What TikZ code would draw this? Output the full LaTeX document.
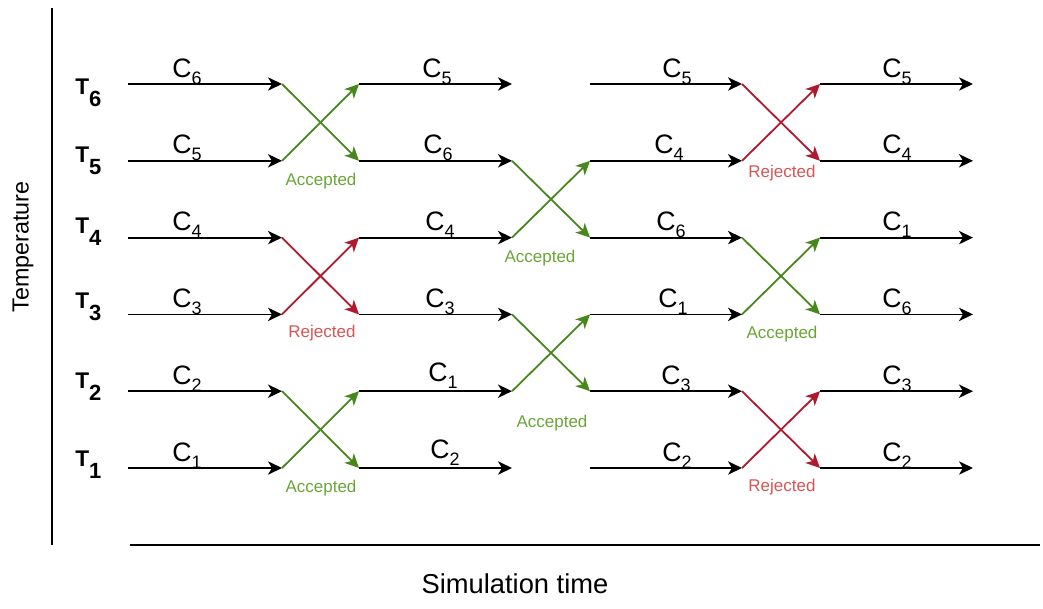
\documentclass[tikz,border=0pt]{standalone}
\usepackage{fontspec}
\setmainfont{Liberation Sans}
\usetikzlibrary{arrows.meta}
\definecolor{accline}{RGB}{72,135,30}
\definecolor{acctext}{RGB}{105,165,55}
\definecolor{rejline}{RGB}{175,25,45}
\definecolor{rejtext}{RGB}{215,85,85}
\newcommand{\Clab}[1]{C\raisebox{-5.3pt}{\fontsize{13.5}{13.5}\selectfont #1}}
\newcommand{\Tlab}[1]{T\raisebox{-9pt}{\fontsize{16.5}{16.5}\selectfont #1}}
\tikzset{
  flow/.style={draw=black, line width=1.35pt, -{Stealth[length=10.5pt,width=10pt,inset=3pt]}},
  acc/.style={flow, draw=accline},
  rej/.style={flow, draw=rejline},
  clab/.style={font=\fontsize{20}{20}\selectfont, anchor=base, inner sep=0pt},
  tlab/.style={font=\bfseries\fontsize{17}{17}\selectfont, anchor=base west, inner sep=0pt},
  acclab/.style={font=\fontsize{12.75}{12.75}\selectfont, text=acctext, anchor=base, inner sep=0pt},
  rejlab/.style={font=\fontsize{12.75}{12.75}\selectfont, text=rejtext, anchor=base, inner sep=0pt},
  axis/.style={draw=black, line width=1pt},
  axlab/.style={inner sep=0pt}
}
\begin{document}
\begin{tikzpicture}[x=0.75pt, y=-0.75pt]
\path[use as bounding box] (0,0) rectangle (1043,608);
% grid of points
\foreach \c/\x in {0/128,1/282,2/359,3/512,4/590,5/742,6/820,7/973}{
  \foreach \r in {1,...,6}{
    \coordinate (p\c-\r) at (\x, {468-(\r-1)*76.8});
  }
}
% horizontal segments
\foreach \r in {1,...,6}{
  \draw[flow] (p0-\r) -- (p1-\r);
  \draw[flow] (p2-\r) -- (p3-\r);
  \draw[flow] (p4-\r) -- (p5-\r);
  \draw[flow] (p6-\r) -- (p7-\r);
}
% cross 1
\draw[acc] (p1-6) -- (p2-5); \draw[acc] (p1-5) -- (p2-6);
\draw[rej] (p1-4) -- (p2-3); \draw[rej] (p1-3) -- (p2-4);
\draw[acc] (p1-2) -- (p2-1); \draw[acc] (p1-1) -- (p2-2);
% cross 2
\draw[acc] (p3-5) -- (p4-4); \draw[acc] (p3-4) -- (p4-5);
\draw[acc] (p3-3) -- (p4-2); \draw[acc] (p3-2) -- (p4-3);
% cross 3
\draw[rej] (p5-6) -- (p6-5); \draw[rej] (p5-5) -- (p6-6);
\draw[acc] (p5-4) -- (p6-3); \draw[acc] (p5-3) -- (p6-4);
\draw[rej] (p5-2) -- (p6-1); \draw[rej] (p5-1) -- (p6-2);
% temperature labels
\node[tlab] (t6) at (75, 94) {\Tlab{6}};
\node[tlab] (t5) at (75, 162) {\Tlab{5}};
\node[tlab] (t4) at (75, 233) {\Tlab{4}};
\node[tlab] (t3) at (75, 308.4) {\Tlab{3}};
\node[tlab] (t2) at (75, 388.2) {\Tlab{2}};
\node[tlab] (t1) at (75, 466) {\Tlab{1}};
% segment 1 labels
\node[clab] (a6) at (187, 77) {\Clab{6}};
\node[clab] (a5) at (187, 153.8) {\Clab{5}};
\node[clab] (a4) at (187, 230.6) {\Clab{4}};
\node[clab] (a3) at (187, 307.4) {\Clab{3}};
\node[clab] (a2) at (187, 384.2) {\Clab{2}};
\node[clab] (a1) at (187, 461) {\Clab{1}};
% segment 2 labels
\node[clab] (b6) at (437, 77) {\Clab{5}};
\node[clab] (b5) at (438, 153.8) {\Clab{6}};
\node[clab] (b4) at (440, 230.6) {\Clab{4}};
\node[clab] (b3) at (440, 307.4) {\Clab{3}};
\node[clab] (b2) at (443, 381.2) {\Clab{1}};
\node[clab] (b1) at (445, 458) {\Clab{2}};
% segment 3 labels
\node[clab] (d6) at (677, 77) {\Clab{5}};
\node[clab] (d5) at (669, 153.8) {\Clab{4}};
\node[clab] (d4) at (671, 230.6) {\Clab{6}};
\node[clab] (d3) at (673, 307.4) {\Clab{1}};
\node[clab] (d2) at (676, 384.2) {\Clab{3}};
\node[clab] (d1) at (677, 461) {\Clab{2}};
% segment 4 labels
\node[clab] (e6) at (897, 77) {\Clab{5}};
\node[clab] (e5) at (897, 153.8) {\Clab{4}};
\node[clab] (e4) at (897, 230.6) {\Clab{1}};
\node[clab] (e3) at (897, 307.4) {\Clab{6}};
\node[clab] (e2) at (897, 384.2) {\Clab{3}};
\node[clab] (e1) at (897, 461) {\Clab{2}};
% exchange labels
\node[acclab] (x1) at (321, 185) {Accepted};
\node[rejlab] (x2) at (322, 337) {Rejected};
\node[acclab] (x3) at (321, 492) {Accepted};
\node[acclab] (x4) at (540, 262) {Accepted};
\node[acclab] (x5) at (552, 427) {Accepted};
\node[rejlab] (x6) at (782, 177) {Rejected};
\node[acclab] (x7) at (782, 338) {Accepted};
\node[rejlab] (x8) at (782, 491) {Rejected};
% axes
\coordinate (vtop) at (52, 8);
\coordinate (vbot) at (52, 545);
\coordinate (hl) at (130, 545);
\coordinate (hr) at (1040, 545);
\draw[axis] (vtop) -- (vbot);
\draw[axis] (hl) -- (hr);
\node[axlab, rotate=90, font=\fontsize{17.5}{17.5}\selectfont] (ylab) at (23, 247) {Temperature};
\node[axlab, anchor=base, font=\fontsize{20.5}{20.5}\selectfont] (xlab) at (515, 593) {Simulation time};
\end{tikzpicture}
\end{document}
